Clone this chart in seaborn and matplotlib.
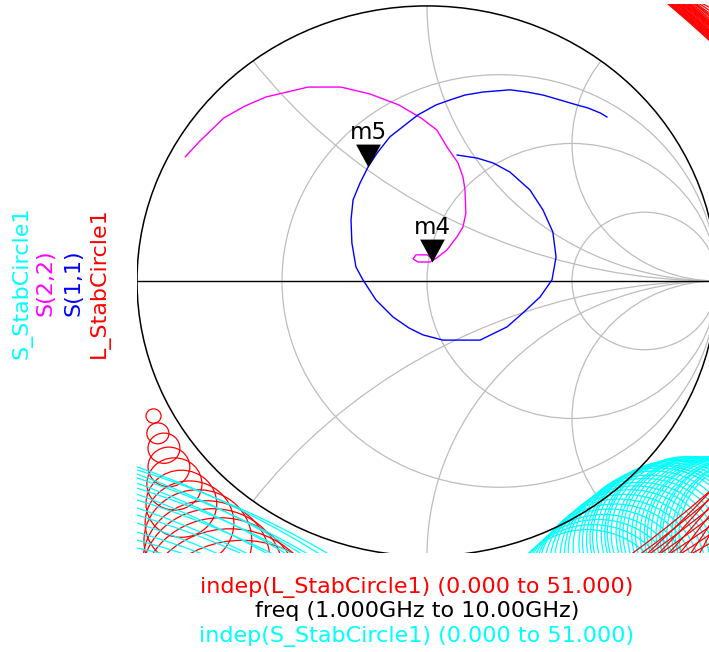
import numpy as np
import pandas as pd
import seaborn as sns
import matplotlib.pyplot as plt
from matplotlib.patches import Circle

# S(1,1) and S(2,2) traces, reflection coefficient (real / imaginary)
s11_re = [0.621, 0.597, 0.555, 0.517, 0.459, 0.400, 0.345, 0.286, 0.241, 0.193, 0.131, 0.079, 0.031, 0.000,
          -0.031, -0.076, -0.128, -0.172, -0.203, -0.231, -0.255, -0.262, -0.259, -0.245, -0.221, -0.176,
          -0.117, -0.062, -0.014, 0.055, 0.183, 0.276, 0.331, 0.390, 0.431, 0.445, 0.434, 0.400, 0.355,
          0.286, 0.228, 0.172, 0.103]
s11_im = [0.596, 0.611, 0.629, 0.640, 0.658, 0.676, 0.687, 0.695, 0.691, 0.687, 0.676, 0.658, 0.640, 0.622,
          0.604, 0.567, 0.524, 0.465, 0.415, 0.356, 0.295, 0.222, 0.138, 0.051, 0.004, -0.069,
          -0.131, -0.171, -0.196, -0.215, -0.215, -0.167, -0.116, -0.058, 0.004, 0.087, 0.178, 0.258, 0.331,
          0.396, 0.429, 0.447, 0.458]
s22_re = [-0.834, -0.783, -0.700, -0.628, -0.555, -0.410, -0.297, -0.197, -0.097, -0.021, 0.034, 0.069,
          0.107, 0.124, 0.131, 0.134, 0.124, 0.103, 0.069, 0.034, 0.010, -0.031, -0.048, -0.038, 0.000, 0.017]
s22_im = [0.451, 0.509, 0.593, 0.636, 0.669, 0.705, 0.705, 0.680, 0.640, 0.593, 0.549, 0.487,
          0.429, 0.378, 0.331, 0.247, 0.196, 0.160, 0.113, 0.084, 0.069, 0.069, 0.080, 0.095, 0.095, 0.084]

# markers
marker_names = ["m5", "m4"]
marker_re = [-0.203, 0.017]
marker_im = [0.415, 0.069]

# smith grid values
grid_r = [1 / 3, 1, 3]
grid_x = [0.5, 1, 2]

# L_StabCircle1, small circles in lower left (centre, radius)
lstab_cx = [-0.943, -0.928, -0.907, -0.890, -0.871, -0.847, -0.819, -0.790, -0.760, -0.738, -0.712, -0.679, -0.638]
lstab_cy = [-0.491, -0.554, -0.608, -0.676, -0.738, -0.810, -0.880, -0.945, -1.018, -1.073, -1.135, -1.211, -1.298]
lstab_rad = [0.026, 0.038, 0.055, 0.072, 0.095, 0.122, 0.153, 0.186, 0.219, 0.245, 0.274, 0.310, 0.355]

# L_StabCircle1, huge circles: where they cut the chart frame
ltop_re = [0.831, 0.835, 0.838, 0.841, 0.845, 0.848, 0.853, 0.859, 0.862, 0.866, 0.869, 0.874, 0.879,
           0.883, 0.886, 0.891, 0.897, 0.900, 0.903, 0.908, 0.914, 0.921, 0.926, 0.931, 0.941, 0.952]
ltop_im = [0.876, 0.880, 0.884, 0.887, 0.891, 0.895, 0.898, 0.902, 0.906, 0.909, 0.913, 0.918, 0.924,
           0.927, 0.931, 0.935, 0.938, 0.942, 0.945, 0.950, 0.956, 0.964, 0.969, 0.975, 0.985, 0.996]
lbot_re = [0.710, 0.741, 0.772, 0.807, 0.841, 0.879, 0.917, 0.762, 0.800, 0.834, 0.872, 0.910, 0.941]
lbot_im = [-0.767, -0.796, -0.829, -0.862, -0.895, -0.924, -0.956, -0.771, -0.793, -0.825, -0.855, -0.891, -0.927]

# S_StabCircle1, circles in lower right (centre, radius)
sstab_cx = [1.148, 1.134, 1.121, 1.106, 1.093, 1.080, 1.066, 1.051, 1.038, 1.025, 1.010, 0.996, 0.983, 0.970,
            0.955, 0.941, 0.928, 0.913, 0.900, 0.889, 0.876, 0.861, 0.848, 0.837, 0.824, 0.811, 0.800, 0.782,
            0.766, 0.751, 0.734, 0.716, 0.700, 0.682, 0.662, 0.646, 0.628, 0.608, 0.590, 0.571, 0.552]
sstab_cy = [-0.920, -0.919, -0.921, -0.920, -0.919, -0.921, -0.920, -0.919, -0.918, -0.920, -0.919, -0.921,
            -0.920, -0.918, -0.918, -0.919, -0.920, -0.917, -0.916, -0.919, -0.924, -0.927, -0.931, -0.936,
            -0.942, -0.948, -0.956, -0.969, -0.985, -0.995, -1.007, -1.021, -1.036, -1.055, -1.073, -1.089,
            -1.105, -1.126, -1.145, -1.166, -1.185]
sstab_rad = [0.279, 0.278, 0.277, 0.279, 0.280, 0.277, 0.276, 0.278, 0.278, 0.276, 0.275, 0.277, 0.277, 0.279,
             0.279, 0.277, 0.276, 0.278, 0.278, 0.276, 0.275, 0.276, 0.277, 0.275, 0.274, 0.275, 0.276, 0.278,
             0.279, 0.277, 0.275, 0.276, 0.277, 0.279, 0.280, 0.278, 0.276, 0.277, 0.278, 0.280, 0.281]

# S_StabCircle1, huge circles in lower left: where they cut the left and bottom frame
sleft_im = [-0.676, -0.687, -0.702, -0.716, -0.735, -0.753, -0.775, -0.796, -0.825, -0.851, -0.880, -0.913, -0.942, -0.971]
sbot_re = [-0.376, -0.345, -0.438, -0.417, -0.490, -0.469, -0.555, -0.538, -0.624, -0.645, -0.728, -0.783, -0.848, -0.921]

XLIM = (-1.0, 1.0)
YLIM = (-0.989, 1.007)


def chord_circle(p, q, rad, toward):
    p, q = np.asarray(p, float), np.asarray(q, float)
    mid = (p + q) / 2
    d = q - p
    half = np.hypot(*d) / 2
    n = np.array([-d[1], d[0]]) / (2 * half)
    h = np.sqrt(rad ** 2 - half ** 2)
    c1, c2 = mid + h * n, mid - h * n
    t = np.asarray(toward, float)
    c = c1 if np.hypot(*(c1 - t)) < np.hypot(*(c2 - t)) else c2
    return c


sns.set_style("white")
plt.rcParams['font.family'] = ['DejaVu Sans']

fig = plt.figure(figsize=(7.09, 6.52), dpi=100)
ax = fig.add_axes([137 / 709, 99 / 652, 580 / 709, 549 / 652])

# chart outline and grid
unit = Circle((0, 0), 1, fill=False, ec='black', lw=1.1, zorder=3)
ax.add_patch(unit)
ax.axhline(0, color='black', lw=1.0, zorder=3)
grid_kw = dict(fill=False, ec='#bdbdbd', lw=0.9, zorder=1)
for r in grid_r:
    ax.add_patch(Circle((r / (1 + r), 0), 1 / (1 + r), **grid_kw))
for x in grid_x:
    for s in (1, -1):
        arc = Circle((1, s / x), 1 / x, **grid_kw)
        ax.add_patch(arc)
        arc.set_clip_path(unit)

# stability circles
cyan = '#00ffff'
red = '#ff0000'
for cx, cy, rad in zip(lstab_cx, lstab_cy, lstab_rad):
    ax.add_patch(Circle((cx, cy), rad, fill=False, ec=red, lw=0.9, zorder=2))
for yl, xb in zip(sleft_im, sbot_re):
    c = chord_circle((XLIM[0], yl), (xb, YLIM[0]), 3.0, (-5, -5))
    ax.add_patch(Circle(c, 3.0, fill=False, ec=cyan, lw=0.9, zorder=2.5))
for cx, cy, rad in zip(sstab_cx, sstab_cy, sstab_rad):
    ax.add_patch(Circle((cx, cy), rad, fill=False, ec=cyan, lw=0.9, zorder=2.5))
for xt, yr in zip(ltop_re, ltop_im):
    c = chord_circle((xt, YLIM[1]), (0.972, yr), 4.5, (-5, -5))
    ax.add_patch(Circle(c, 4.5, fill=False, ec=red, lw=0.9, zorder=2.6))
for xb, yr in zip(lbot_re, lbot_im):
    c = chord_circle((xb, YLIM[0]), (0.972, yr), 4.0, (-3, 3))
    ax.add_patch(Circle(c, 4.0, fill=False, ec=red, lw=0.9, zorder=2.6))

# S-parameter traces
df11 = pd.DataFrame({'re': s11_re, 'im': s11_im})
df22 = pd.DataFrame({'re': s22_re, 'im': s22_im})
sns.lineplot(data=df22, x='re', y='im', sort=False, estimator=None, color='#ff00ff', lw=1.0, ax=ax, zorder=4)
sns.lineplot(data=df11, x='re', y='im', sort=False, estimator=None, color='#0000ff', lw=1.0, ax=ax, zorder=4)

tri = [(0, 0), (-0.54, 1), (0.54, 1), (0, 0)]
for name, mx, my in zip(marker_names, marker_re, marker_im):
    ax.plot(mx, my, marker=tri, ms=33, color='black', mew=0, ls='none', zorder=6)
    ax.annotate(name, xy=(mx, my), xytext=(0, 20), textcoords='offset points',
                ha='center', va='baseline', fontsize=16.5, color='black', zorder=7)

ax.set_xlim(*XLIM)
ax.set_ylim(*YLIM)
ax.axis('off')

# trace labels on the left
left_labels = [("S_StabCircle1", cyan, 22), ("S(2,2)", '#ff00ff', 46), ("S(1,1)", '#0000ff', 74),
               ("L_StabCircle1", red, 99)]
for txt, col, xp in left_labels:
    fig.text(xp / 709, 1 - 283 / 652, txt, color=col, rotation=90, ha='center', va='center', fontsize=16)

# sweep ranges below
bottom_labels = [("indep(L_StabCircle1) (0.000 to 51.000)", red, 593),
                 ("freq (1.000GHz to 10.00GHz)", 'black', 617),
                 ("indep(S_StabCircle1) (0.000 to 51.000)", cyan, 642)]
for txt, col, yp in bottom_labels:
    fig.text(417 / 709, 1 - yp / 652, txt, color=col, ha='center', va='baseline', fontsize=16)

fig.savefig('out.png', dpi=100)
